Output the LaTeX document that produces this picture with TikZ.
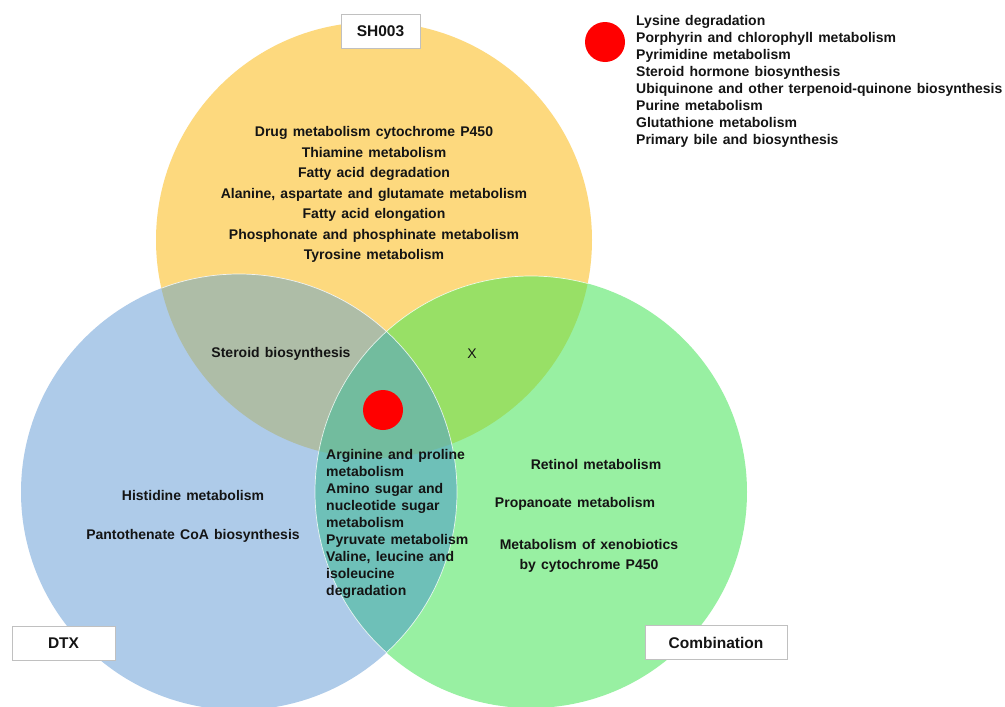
\documentclass[tikz,border=0pt]{standalone}
\usepackage{fontspec}
\setmainfont{Liberation Sans}
\definecolor{cy}{HTML}{FDD97E}
\definecolor{cb}{HTML}{AECBE9}
\definecolor{cg}{HTML}{98F0A2}
\definecolor{cyb}{HTML}{AEBDA7}
\definecolor{cyg}{HTML}{98E066}
\definecolor{cbg}{HTML}{6EC0B8}
\definecolor{cybg}{HTML}{72BC9E}
\definecolor{txt}{HTML}{141414}
\definecolor{boxline}{HTML}{C0C0C0}
\definecolor{dotred}{HTML}{FF0000}
\newcommand{\myws}{\spaceskip=5.2pt plus 1pt minus 0.5pt\relax}
\newcommand{\fnA}{\fontsize{14}{17}\selectfont\bfseries\myws}
\newcommand{\fnB}{\fontsize{14}{20.5}\selectfont\bfseries\myws}
\newcommand{\fnC}{\fontsize{15.5}{18}\selectfont\bfseries}
\begin{document}
\begin{tikzpicture}[x=1pt,y=-1pt,
  lbl/.style={inner sep=0pt,text=txt,font=\fnA},
  biglist/.style={inner sep=0pt,text=txt,align=center,font=\fnB},
  setbox/.style={draw=boxline,line width=0.8pt,fill=white,text=txt,font=\fnC,minimum height=34pt,inner sep=0pt},
  reddot/.style={circle,fill=dotred,inner sep=0pt,minimum size=40pt},
  rim/.style={draw=white,line width=0.7pt,opacity=0.8}]
\useasboundingbox (0,0) rectangle (1005,707);
\fill[white] (0,0) rectangle (1005,707);
\coordinate (Y) at (374,240);
\coordinate (B) at (239,492);
\coordinate (G) at (531,492);
% base circles
\fill[cy] (Y) circle[radius=218pt];
\fill[cb] (B) circle[radius=218pt];
\fill[cg] (G) circle[radius=216pt];
% pairwise overlaps
\begin{scope}
  \clip (Y) circle[radius=218pt];
  \fill[cyb] (B) circle[radius=218pt];
  \fill[cyg] (G) circle[radius=216pt];
\end{scope}
\begin{scope}
  \clip (B) circle[radius=218pt];
  \fill[cbg] (G) circle[radius=216pt];
\end{scope}
\begin{scope}
  \clip (Y) circle[radius=218pt];
  \clip (B) circle[radius=218pt];
  \fill[cybg] (G) circle[radius=216pt];
\end{scope}
% thin white rims
\begin{scope}
  \clip (Y) circle[radius=218pt] (G) circle[radius=216pt];
  \draw[rim] (B) circle[radius=218pt];
\end{scope}
\begin{scope}
  \clip (Y) circle[radius=218pt] (B) circle[radius=218pt];
  \draw[rim] (G) circle[radius=216pt];
\end{scope}

% set labels
\node[setbox,minimum width=79pt] (sh) at (380.5,31.5) {SH003};
\node[setbox,minimum width=103pt] (dtx) at (63.5,643) {DTX};
\node[setbox,minimum width=142pt] (comb) at (716,642.5) {Combination};

% yellow only
\node[biglist] (ylist) at (374,194.5) {Drug metabolism cytochrome P450\\Thiamine metabolism\\Fatty acid degradation\\Alanine, aspartate and glutamate metabolism\\Fatty acid elongation\\Phosphonate and phosphinate metabolism\\Tyrosine metabolism};

% overlaps
\node[lbl] (ster) at (281,354) {Steroid biosynthesis};
\node[lbl,font=\fontsize{14}{17}\selectfont] (xx) at (472,354) {X};
\node[reddot] (dot) at (383,410) {};

% blue only
\node[lbl] (hist) at (193,495) {Histidine metabolism};
\node[lbl] (pant) at (193,536) {Pantothenate CoA biosynthesis};

% blue and green
\node[lbl,align=left,anchor=west] (bg) at (326,524) {Arginine and proline\\metabolism\\Amino sugar and\\nucleotide sugar\\metabolism\\Pyruvate metabolism\\Valine, leucine and\\isoleucine\\degradation};

% green only
\node[lbl] (ret) at (596,464) {Retinol metabolism};
\node[lbl] (prop) at (575,504) {Propanoate metabolism};
\node[biglist] (xeno) at (589,556) {Metabolism of xenobiotics\\by cytochrome P450};

% legend
\node[reddot] (ldot) at (605,42) {};
\node[lbl,align=left,anchor=west] (legend) at (636,81.5) {Lysine degradation\\Porphyrin and chlorophyll metabolism\\Pyrimidine metabolism\\Steroid hormone biosynthesis\\Ubiquinone and other terpenoid-quinone biosynthesis\\Purine metabolism\\Glutathione metabolism\\Primary bile and biosynthesis};
\end{tikzpicture}
\end{document}
